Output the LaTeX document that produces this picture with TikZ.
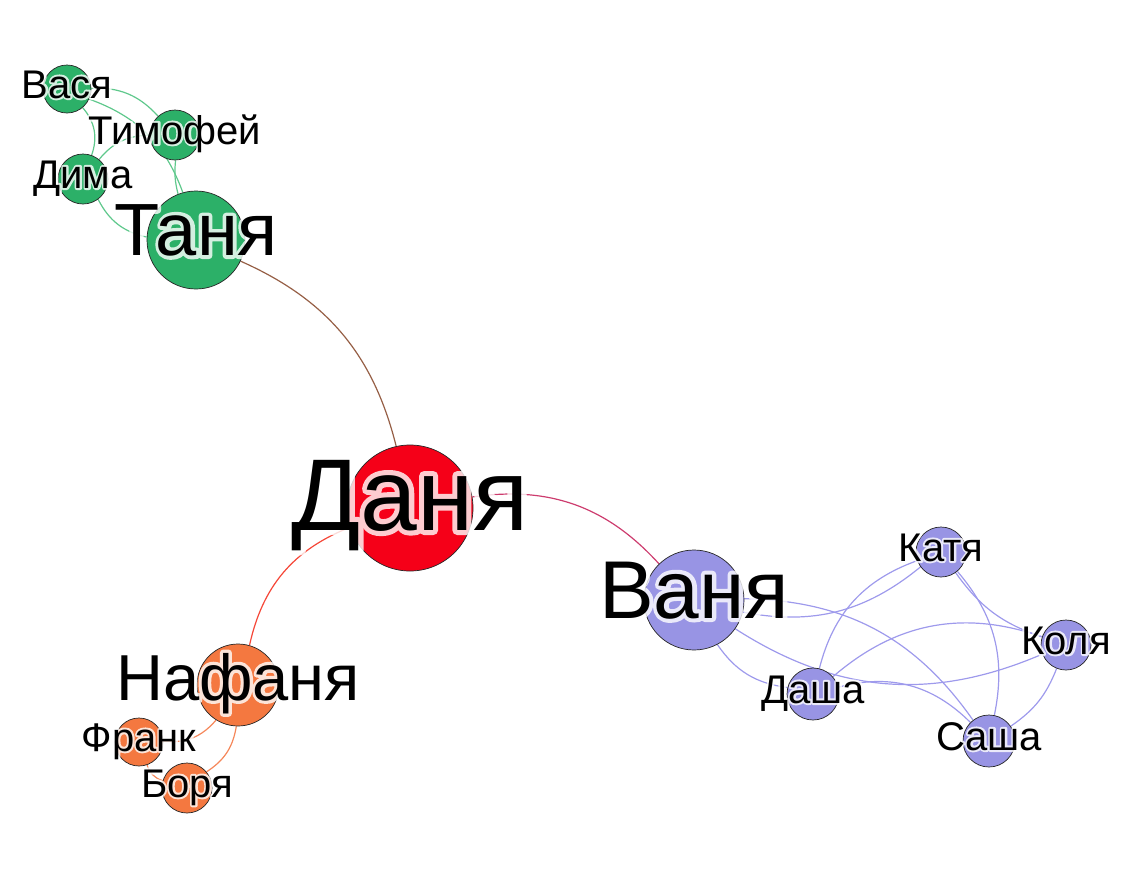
\documentclass[tikz,border=0pt]{standalone}
\usepackage{fontspec}
\setmainfont{Liberation Sans}
\usetikzlibrary{positioning, calc}

\definecolor{grn}{RGB}{44,176,104}
\definecolor{org}{RGB}{244,120,64}
\definecolor{redN}{RGB}{245,0,24}
\definecolor{pur}{RGB}{152,148,228}
\definecolor{grnE}{RGB}{95,200,140}
\definecolor{orgE}{RGB}{245,135,90}
\definecolor{purE}{RGB}{158,154,236}
\definecolor{brn}{RGB}{150,95,70}
\definecolor{pnk}{RGB}{205,60,110}
\definecolor{rdo}{RGB}{245,70,55}

% outlined text: fill and stroke, line width in bp
\newcommand{\glow}[2]{\special{pdf:literal direct 2 Tr 1 j 1 J #1 w}#2\special{pdf:literal direct 0 Tr}}

\pgfdeclarelayer{bg}
\pgfsetlayers{bg,main}

\begin{document}
\begin{tikzpicture}[x=0.5pt, y=-0.5pt,
    main/.style = {draw=black!85, line width=0.35pt, circle, inner sep=0pt},
    lbl/.style = {anchor=base, inner sep=0pt},
    halo/.style = {anchor=base, inner sep=0pt, text=white},
    link/.style = {line width=0.6pt},
    fontA/.style = {font=\fontsize{51pt}{51pt}\selectfont},
    fontB/.style = {font=\fontsize{41pt}{41pt}\selectfont},
    fontC/.style = {font=\fontsize{37pt}{37pt}\selectfont},
    fontD/.style = {font=\fontsize{32.5pt}{32.5pt}\selectfont},
    fontS/.style = {font=\fontsize{20pt}{20pt}\selectfont}]
\useasboundingbox (0,0) rectangle (1131,874);

% people
\node[main, fill=grn, minimum size=24pt] (vasya) at (67,89) {};
\node[main, fill=grn, minimum size=25pt] (timofey) at (175,135) {};
\node[main, fill=grn, minimum size=25pt] (dima) at (83,179) {};
\node[main, fill=grn, minimum size=49pt] (tanya) at (196,240) {};
\node[main, fill=redN, minimum size=63pt] (danya) at (410,508) {};
\node[main, fill=pur, minimum size=50pt] (vanya) at (694,600) {};
\node[main, fill=org, minimum size=41pt] (nafanya) at (238,685) {};
\node[main, fill=org, minimum size=24pt] (frank) at (139,742) {};
\node[main, fill=org, minimum size=25pt] (borya) at (187,788) {};
\node[main, fill=pur, minimum size=25pt] (katya) at (941,552) {};
\node[main, fill=pur, minimum size=25pt] (kolya) at (1066,645) {};
\node[main, fill=pur, minimum size=26pt] (dasha) at (813,694) {};
\node[main, fill=pur, minimum size=26pt] (sasha) at (989,741) {};

% links
\begin{pgfonlayer}{bg}
\draw[link, grnE] (vasya) to[bend left=25] (timofey);
\draw[link, grnE] (vasya) to[bend left=25] (tanya);
\draw[link, grnE] (vasya) to[bend left=30] (dima);
\draw[link, grnE] (dima) to[bend left=25] (timofey);
\draw[link, grnE] (tanya) to[bend left=10] (timofey);
\draw[link, grnE] (tanya) to[bend left=25] (dima);
\draw[link, brn] (tanya) to[bend left=26] (danya);
\draw[link, pnk] (danya) to[bend left=28] (vanya);
\draw[link, rdo] (nafanya) to[bend left=28] (danya);
\draw[link, orgE] (nafanya) to[bend left=28] (frank);
\draw[link, orgE] (nafanya) to[bend left=24] (borya);
\draw[link, orgE] (borya) to[bend left=27] (frank);
\draw[link, purE] (katya) to[bend left=25] (vanya);
\draw[link, purE] (vanya) to[bend left=27] (sasha);
\draw[link, purE] (kolya) to[bend left=28] (vanya);
\draw[link, purE] (dasha) to[bend left=24] (vanya);
\draw[link, purE] (dasha) to[bend left=28] (katya);
\draw[link, purE] (dasha) to[bend left=30] (kolya);
\draw[link, purE] (dasha) to[bend left=30] (sasha);
\draw[link, purE] (kolya) to[bend left=18] (katya);
\draw[link, purE] (katya) to[bend left=26] (sasha);
\draw[link, purE] (kolya) to[bend left=17] (sasha);
\end{pgfonlayer}

% halos
\begin{scope}[transparency group, opacity=0.8]
\node[halo, fontS] (vasyaH) at ([yshift=-4.5pt]vasya.center) {\glow{2}{Вася}};
\node[halo, fontS] (timofeyH) at ([yshift=-4.5pt]timofey.center) {\glow{2}{Тимофей}};
\node[halo, fontS] (dimaH) at ([yshift=-4.5pt]dima.center) {\glow{2}{Дима}};
\node[halo, fontC] (tanyaH) at ([yshift=-7.7pt]tanya.center) {\glow{3.7}{Таня}};
\node[halo, fontA] (danyaH) at ([yshift=-11pt]danya.center) {\glow{5.1}{Даня}};
\node[halo, fontB] (vanyaH) at ([yshift=-9pt]vanya.center) {\glow{4.1}{Ваня}};
\node[halo, fontD] (nafanyaH) at ([yshift=-7.5pt]nafanya.center) {\glow{3.3}{Нафаня}};
\node[halo, fontS] (frankH) at ([yshift=-4.5pt]frank.center) {\glow{2}{Франк}};
\node[halo, fontS] (boryaH) at ([yshift=-4.5pt]borya.center) {\glow{2}{Боря}};
\node[halo, fontS] (katyaH) at ([yshift=-4.5pt]katya.center) {\glow{2}{Катя}};
\node[halo, fontS] (kolyaH) at ([yshift=-4.5pt]kolya.center) {\glow{2}{Коля}};
\node[halo, fontS] (dashaH) at ([yshift=-4.5pt]dasha.center) {\glow{2}{Даша}};
\node[halo, fontS] (sashaH) at ([yshift=-4.5pt]sasha.center) {\glow{2}{Саша}};
\end{scope}

% names
\node[lbl, fontS] (vasyaL) at ([yshift=-4.5pt]vasya.center) {Вася};
\node[lbl, fontS] (timofeyL) at ([yshift=-4.5pt]timofey.center) {Тимофей};
\node[lbl, fontS] (dimaL) at ([yshift=-4.5pt]dima.center) {Дима};
\node[lbl, fontC] (tanyaL) at ([yshift=-7.7pt]tanya.center) {Таня};
\node[lbl, fontA] (danyaL) at ([yshift=-11pt]danya.center) {Даня};
\node[lbl, fontB] (vanyaL) at ([yshift=-9pt]vanya.center) {Ваня};
\node[lbl, fontD] (nafanyaL) at ([yshift=-7.5pt]nafanya.center) {Нафаня};
\node[lbl, fontS] (frankL) at ([yshift=-4.5pt]frank.center) {Франк};
\node[lbl, fontS] (boryaL) at ([yshift=-4.5pt]borya.center) {Боря};
\node[lbl, fontS] (katyaL) at ([yshift=-4.5pt]katya.center) {Катя};
\node[lbl, fontS] (kolyaL) at ([yshift=-4.5pt]kolya.center) {Коля};
\node[lbl, fontS] (dashaL) at ([yshift=-4.5pt]dasha.center) {Даша};
\node[lbl, fontS] (sashaL) at ([yshift=-4.5pt]sasha.center) {Саша};
\end{tikzpicture}
\end{document}
